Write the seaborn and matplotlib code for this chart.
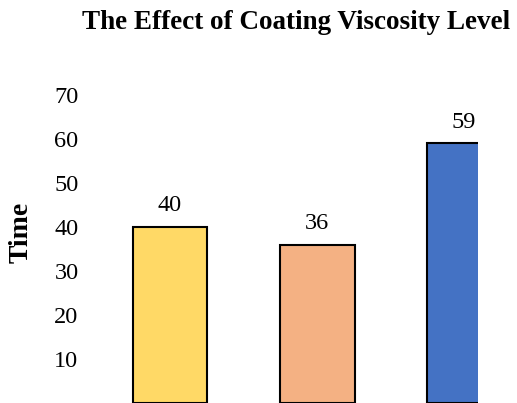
import pandas as pd
import matplotlib.pyplot as plt
import seaborn as sns

# Data #
levels = ["Low", "Medium", "High"]
times = [40, 36, 59]
bar_colors = ["#FFD966", "#F4B183", "#4472C4"]
yticks = [10, 20, 30, 40, 50, 60, 70]

df = pd.DataFrame({"Level": levels, "Time": times})

sns.set_style("white")
plt.rcParams['font.family'] = ['Liberation Serif', 'DejaVu Serif']

fig = plt.figure(figsize=(5.17, 4.03), dpi=100)
ax = fig.add_axes([96.5 / 517, 0.0, (478 - 96.5) / 517, 308 / 403])

sns.barplot(data=df, x="Level", y="Time", hue="Level", palette=bar_colors,
            order=levels, hue_order=levels, width=0.51, legend=False,
            saturation=1, edgecolor="black", linewidth=1.5, ax=ax)

for i, v in enumerate(times):
    ax.text(i, v + 2.4, f"{v}", ha="center", va="bottom", fontsize=17.5, color="black", clip_on=False)

ax.set_xlim(-0.5, 2.095)
ax.set_ylim(0, 70)
ax.set_yticks(yticks)
ax.set_yticklabels([str(t) for t in yticks], fontsize=17.5, color="black")
ax.tick_params(axis="y", length=0, pad=13)
ax.set_xticks([])
ax.set_xlabel("")
ax.set_ylabel("Time", fontsize=20, fontweight="bold", color="black")
ax.yaxis.set_label_coords(-0.165, 0.555)
for s in ax.spines.values():
    s.set_visible(False)

fig.text(0.5725, 0.945, "The Effect of Coating Viscosity Level", ha="center", va="center",
         fontsize=19.5, fontweight="bold", color="black")

plt.savefig("out.png", dpi=100)
